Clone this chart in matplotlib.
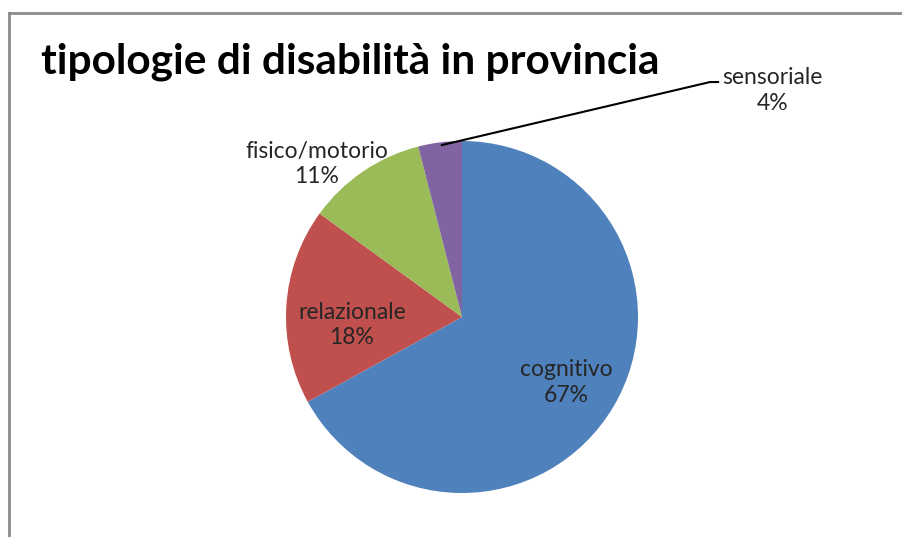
from matplotlib import pyplot as plt

categorie = ['cognitivo', 'relazionale', 'fisico/motorio', 'sensoriale']
percentuali = [67, 18, 11, 4]
colori = ['#4F81BD', '#C0504D', '#9BBB59', '#8064A2']
# posizioni delle etichette (coordinate del grafico, raggio = 1)
pos_etichette = [(0.59, -0.37), (-0.625, -0.045), (-0.824, 0.87), (1.765, 1.285)]

fig = plt.figure(figsize=(9.03, 5.37), dpi=100)

# cornice grigia del grafico
fig.add_artist(plt.Line2D([9 / 903, 9 / 903], [0, 1 - 13 / 537], color='#8c8c8c', lw=2))
fig.add_artist(plt.Line2D([9 / 903, 1], [1 - 13 / 537, 1 - 13 / 537], color='#8c8c8c', lw=2))

fig.text(41 / 903, 1 - 62 / 537, 'tipologie di disabilità in provincia',
         fontsize=30.5, fontweight='bold', family='Lato', va='center', ha='left', color='black')

ax = fig.add_axes([286 / 903, 44 / 537, 352 / 903, 352 / 537])
ax.pie(percentuali, colors=colori, startangle=90, counterclock=False,
       wedgeprops={'linewidth': 0})
ax.set_xlim(-1, 1)
ax.set_ylim(-1, 1)
ax.set_aspect('equal')
ax.axis('off')

for nome, val, (x, y) in zip(categorie, percentuali, pos_etichette):
    ax.text(x, y, f'{nome}\n{val}%', ha='center', va='center', fontsize=16.5,
            family='Lato', color='#262626', linespacing=1.28, clip_on=False)

# linea di richiamo per "sensoriale"
ax.plot([-0.114, 1.409, 1.455], [0.977, 1.335, 1.335], color='black', lw=1.5, clip_on=False)

plt.savefig('out.png', dpi=100)
